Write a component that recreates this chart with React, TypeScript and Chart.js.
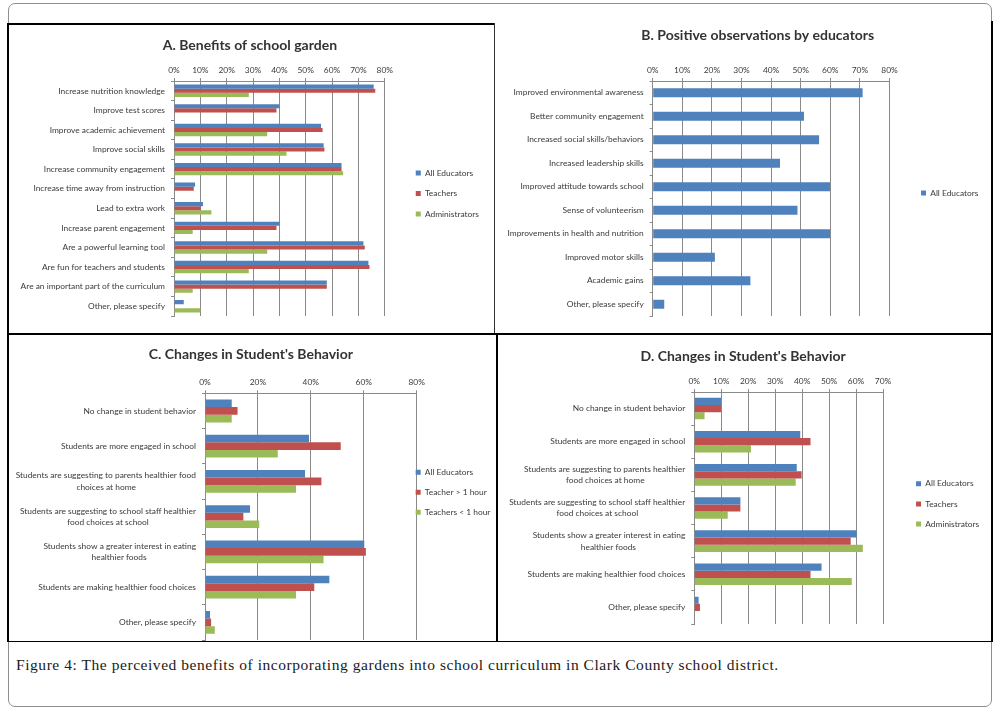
import React, { useEffect, useRef } from 'react';
import { Chart, registerables } from 'chart.js';

Chart.register(...registerables);

// ---------- colours ----------
const BLUE = '#4F81BD';
const RED = '#C0504D';
const GREEN = '#9BBB59';

// ---------- Panel A data ----------
const aTitle = 'A. Benefits of school garden';
const aCategories = [
  'Increase nutrition knowledge',
  'Improve test scores',
  'Improve academic achievement',
  'Improve social skills',
  'Increase community engagement',
  'Increase time away from instruction',
  'Lead to extra work',
  'Increase parent engagement',
  'Are a powerful learning tool',
  'Are fun for teachers and students',
  'Are an important part of the curriculum',
  'Other, please specify',
];
const aAllEducators = [75.8, 40, 55.8, 56.8, 63.6, 8, 11, 40, 71.9, 73.8, 58, 3.7];
const aTeachers = [76.4, 38.9, 56.4, 57.1, 63.6, 7.5, 10.1, 38.9, 72.4, 74.2, 58, 0];
const aAdministrators = [28.4, 0, 35.4, 42.7, 64.2, 0, 14.2, 7.1, 35.4, 28.4, 7.1, 10];
const aSeriesNames = ['All Educators', 'Teachers', 'Administrators'];

// ---------- Panel B data ----------
const bTitle = 'B. Positive observations by educators';
const bCategories = [
  'Improved environmental awareness',
  'Better community engagement',
  'Increased social skills/behaviors',
  'Increased leadership skills',
  'Improved attitude towards school',
  'Sense of volunteerism',
  'Improvements in health and nutrition',
  'Improved motor skills',
  'Academic gains',
  'Other, please specify',
];
const bAllEducators = [70.9, 51.1, 56.2, 43, 59.9, 48.9, 59.9, 21, 33, 3.9];
const bSeriesNames = ['All Educators'];

// ---------- Panel C data ----------
const cTitle = "C. Changes in Student's Behavior";
const cCategories: (string | string[])[] = [
  'No change in student behavior',
  'Students are more engaged in school',
  ['Students are suggesting to parents healthier food', 'choices at home'],
  ['Students are suggesting to school staff healthier', 'food choices at school'],
  ['Students show a greater interest in eating', 'healthier foods'],
  'Students are making healthier food choices',
  'Other, please specify',
];
const cAllEducators = [10.1, 39.3, 37.8, 17, 60.2, 47, 1.9];
const cTeacherOver1h = [12.3, 51.3, 44, 14.5, 60.8, 41.3, 2.3];
const cTeacherUnder1h = [10.1, 27.5, 34.4, 20.5, 44.8, 34.4, 3.7];
const cSeriesNames = ['All Educators', 'Teacher > 1 hour', 'Teachers < 1 hour'];

// ---------- Panel D data ----------
const dTitle = "D. Changes in Student's Behavior";
const dCategories: (string | string[])[] = [
  'No change in student behavior',
  'Students are more engaged in school',
  ['Students are suggesting to parents healthier', 'food choices at home'],
  ['Students are suggesting to school staff healthier', 'food choices at school'],
  ['Students show a greater interest in eating', 'healthier foods'],
  'Students are making healthier food choices',
  'Other, please specify',
];
const dAllEducators = [9.9, 39.3, 38, 17.1, 60.2, 47.2, 1.6];
const dTeachers = [9.9, 43.1, 39.8, 17.1, 58, 43.1, 2.1];
const dAdministrators = [3.8, 21, 37.6, 12.4, 62.5, 58.4, 0];
const dSeriesNames = ['All Educators', 'Teachers', 'Administrators'];

const captionLead = 'Figure 4:';
const caption =
  'The perceived benefits of incorporating gardens into school curriculum in Clark County school district.';

// ---------- helpers ----------
const FONT = 'Lato';
const LABEL_SIZE = 8.4;
const TITLE_SIZE = 14;
const TEXT = '#3a3a3a';
const GRID = '#8a8a8a';
const LEGEND_BOX = 5;
const X_HEIGHT = 20;

let measureCtx: CanvasRenderingContext2D | null = null;
function textWidth(t: string, size: number) {
  if (!measureCtx) measureCtx = document.createElement('canvas').getContext('2d');
  const ctx = measureCtx!;
  ctx.font = `${size}px ${FONT}`;
  return ctx.measureText(t).width;
}
function centerLines(label: any): any {
  if (!Array.isArray(label)) return label;
  const widths = label.map((l: string) => textWidth(l, LABEL_SIZE));
  const max = Math.max(...widths);
  const sp = textWidth(' ', LABEL_SIZE) || 2;
  return label.map((l: string, i: number) => l + ' '.repeat(Math.max(0, Math.round((max - widths[i]) / 2 / sp))));
}

// shifts the title block and legend block after layout (they only draw)
const shiftPlugin = {
  id: 'blockShift',
  afterLayout(chart: any, _args: any, opts: any) {
    if (!opts) return;
    const lg = chart.legend;
    if (lg) {
      lg.left += opts.ldx;
      lg.right += opts.ldx;
      lg.top += opts.ldy;
      lg.bottom += opts.ldy;
    }
    const tb = chart.titleBlock;
    if (tb) {
      tb.left += opts.tdx;
      tb.right += opts.tdx;
    }
  },
};

type Series = { label: string; data: number[]; color: string };
type PanelSpec = {
  title: string;
  categories: (string | string[])[];
  series: Series[];
  xMax: number;
  xStep: number;
  canvasLeft: number;
  canvasTop: number;
  plot: { left: number; right: number; top: number; bottom: number };
  titleX: number;
  titleY: number;
  legendX: number;
  legendY: number;
  legendPad: number;
  catPct: number;
};

function buildConfig(spec: PanelSpec) {
  const lineH = TITLE_SIZE * 1.2;
  const maxText = Math.max(...spec.series.map((s) => textWidth(s.label, LABEL_SIZE)));
  const legendW = spec.legendPad + LEGEND_BOX + LABEL_SIZE / 2 + maxText + 10;
  const rightPad = 120;
  const width = spec.plot.right + legendW + rightPad - spec.canvasLeft;
  const bottomPad = 14;
  const height = spec.plot.bottom + bottomPad - spec.canvasTop;
  const yWidth = spec.plot.left - spec.canvasLeft;
  const tPadTop = spec.titleY - spec.canvasTop - lineH / 2;
  const tPadBottom = spec.plot.top - spec.canvasTop - tPadTop - lineH - X_HEIGHT;
  const naturalTitleX = (spec.canvasLeft + spec.plot.right + legendW) / 2;
  const n = spec.series.length;
  const itemH = LABEL_SIZE;
  const cursorY = (spec.plot.top + spec.legendPad + spec.plot.bottom - n * (itemH + spec.legendPad)) / 2;
  const shift = {
    tdx: spec.titleX - naturalTitleX,
    ldx: spec.legendX - (spec.plot.right + spec.legendPad),
    ldy: spec.legendY - (cursorY + itemH / 2),
  };
  const config: any = {
    type: 'bar',
    data: {
      labels: spec.categories,
      datasets: spec.series.map((s) => ({
        label: s.label,
        data: s.data,
        backgroundColor: s.color,
        borderWidth: 0,
        barPercentage: 1,
        categoryPercentage: spec.catPct,
      })),
    },
    options: {
      indexAxis: 'y',
      responsive: false,
      animation: false,
      layout: { padding: { left: 0, right: rightPad, top: 0, bottom: bottomPad } },
      scales: {
        x: {
          position: 'top',
          min: 0,
          max: spec.xMax,
          ticks: {
            stepSize: spec.xStep,
            callback: (v: any) => v + '%',
            font: { family: FONT, size: LABEL_SIZE },
            color: TEXT,
            padding: 3,
            maxRotation: 0,
          },
          grid: { color: GRID, tickLength: 3, lineWidth: 1 },
          border: { display: true, color: GRID },
          afterFit: (s: any) => {
            s.height = X_HEIGHT;
          },
        },
        y: {
          ticks: {
            font: { family: FONT, size: LABEL_SIZE, lineHeight: 1.35 },
            color: TEXT,
            padding: 6,
            autoSkip: false,
            callback: function (this: any, value: any) {
              return centerLines(this.getLabelForValue(value));
            },
          },
          grid: { drawOnChartArea: false, tickLength: 3, color: GRID, offset: true },
          border: { display: true, color: GRID },
          afterFit: (s: any) => {
            s.width = yWidth;
          },
        },
      },
      plugins: {
        title: {
          display: true,
          text: spec.title,
          font: { family: FONT, size: TITLE_SIZE, weight: 'bold' },
          color: '#333333',
          padding: { top: tPadTop, bottom: tPadBottom },
        },
        legend: {
          position: 'right',
          fullSize: false,
          labels: {
            boxWidth: LEGEND_BOX,
            boxHeight: LEGEND_BOX,
            padding: spec.legendPad,
            font: { family: FONT, size: LABEL_SIZE },
            color: TEXT,
          },
        },
        tooltip: { enabled: false },
        blockShift: shift,
      },
    },
    plugins: [shiftPlugin],
  };
  return { config, width: Math.round(width), height: Math.round(height) };
}

const specA: PanelSpec = {
  title: aTitle,
  categories: aCategories,
  series: [
    { label: aSeriesNames[0], data: aAllEducators, color: BLUE },
    { label: aSeriesNames[1], data: aTeachers, color: RED },
    { label: aSeriesNames[2], data: aAdministrators, color: GREEN },
  ],
  xMax: 80,
  xStep: 10,
  canvasLeft: 10,
  canvasTop: 26,
  plot: { left: 174, right: 385, top: 81, bottom: 316 },
  titleX: 250,
  titleY: 45,
  legendX: 416,
  legendY: 173,
  legendPad: 12.1,
  catPct: 0.63,
};

const specB: PanelSpec = {
  title: bTitle,
  categories: bCategories,
  series: [{ label: bSeriesNames[0], data: bAllEducators, color: BLUE }],
  xMax: 80,
  xStep: 10,
  canvasLeft: 497,
  canvasTop: 24,
  plot: { left: 652.7, right: 890, top: 81, bottom: 316 },
  titleX: 758,
  titleY: 35,
  legendX: 921.5,
  legendY: 193,
  legendPad: 12,
  catPct: 0.38,
};

const specC: PanelSpec = {
  title: cTitle,
  categories: cCategories,
  series: [
    { label: cSeriesNames[0], data: cAllEducators, color: BLUE },
    { label: cSeriesNames[1], data: cTeacherOver1h, color: RED },
    { label: cSeriesNames[2], data: cTeacherUnder1h, color: GREEN },
  ],
  xMax: 80,
  xStep: 20,
  canvasLeft: 0,
  canvasTop: 335,
  plot: { left: 205, right: 417, top: 393.3, bottom: 640 },
  titleX: 251,
  titleY: 354.3,
  legendX: 416,
  legendY: 472.3,
  legendPad: 11.6,
  catPct: 0.65,
};

const specD: PanelSpec = {
  title: dTitle,
  categories: dCategories,
  series: [
    { label: dSeriesNames[0], data: dAllEducators, color: BLUE },
    { label: dSeriesNames[1], data: dTeachers, color: RED },
    { label: dSeriesNames[2], data: dAdministrators, color: GREEN },
  ],
  xMax: 70,
  xStep: 10,
  canvasLeft: 497,
  canvasTop: 336,
  plot: { left: 694.3, right: 882.7, top: 392, bottom: 624 },
  titleX: 743,
  titleY: 356,
  legendX: 915.7,
  legendY: 483.7,
  legendPad: 11.8,
  catPct: 0.65,
};

function ChartPanel({ spec }: { spec: PanelSpec }) {
  const ref = useRef<HTMLCanvasElement>(null);
  const built = buildConfig(spec);
  useEffect(() => {
    const chart = new Chart(ref.current as HTMLCanvasElement, built.config);
    return () => chart.destroy();
  }, []);
  return (
    <canvas
      ref={ref}
      width={built.width}
      height={built.height}
      style={{
        position: 'absolute',
        left: spec.canvasLeft,
        top: spec.canvasTop,
        width: built.width,
        height: built.height,
        zIndex: 1,
      }}
    />
  );
}

function Line({ l, t, w, h, c = '#000' }: { l: number; t: number; w: number; h: number; c?: string }) {
  return <div style={{ position: 'absolute', left: l, top: t, width: w, height: h, background: c, zIndex: 2 }} />;
}

export default function App() {
  return (
    <div style={{ position: 'absolute', left: 0, top: 0, width: 993, height: 710, background: '#fff', overflow: 'hidden' }}>
      {/* outer rounded frame */}
      <div
        style={{
          position: 'absolute',
          left: 8,
          top: 3,
          width: 982,
          height: 702,
          border: '1px solid #8f8f8f',
          borderRadius: 7,
          zIndex: 0,
        }}
      />
      <ChartPanel spec={specA} />
      <ChartPanel spec={specB} />
      <ChartPanel spec={specC} />
      <ChartPanel spec={specD} />
      {/* panel borders */}
      <Line l={7} t={23} w={488} h={2} />
      <Line l={7} t={23} w={2} h={619} />
      <Line l={493.5} t={23} w={1.5} h={311} c="#333" />
      <Line l={7} t={332.5} w={986} h={2} />
      <Line l={496} t={333} w={2} h={309} />
      <Line l={991} t={21} w={2} h={621} />
      <Line l={7} t={640.5} w={986} h={1.8} />
      {/* white cover outside the frame so wide canvases do not spill */}
      <div style={{ position: 'absolute', left: 0, top: 0, width: 7, height: 710, background: '#fff', zIndex: 2 }} />
      <div style={{ position: 'absolute', left: 993, top: 0, width: 20, height: 710, background: '#fff', zIndex: 2 }} />
      <div
        style={{
          position: 'absolute',
          left: 16,
          top: 656,
          fontFamily: '"Liberation Serif", serif',
          fontSize: 15.5,
          letterSpacing: 0.55,
          color: '#1a1a1a',
          whiteSpace: 'nowrap',
          zIndex: 2,
        }}
      >
        {captionLead} {caption}
      </div>
    </div>
  );
}
